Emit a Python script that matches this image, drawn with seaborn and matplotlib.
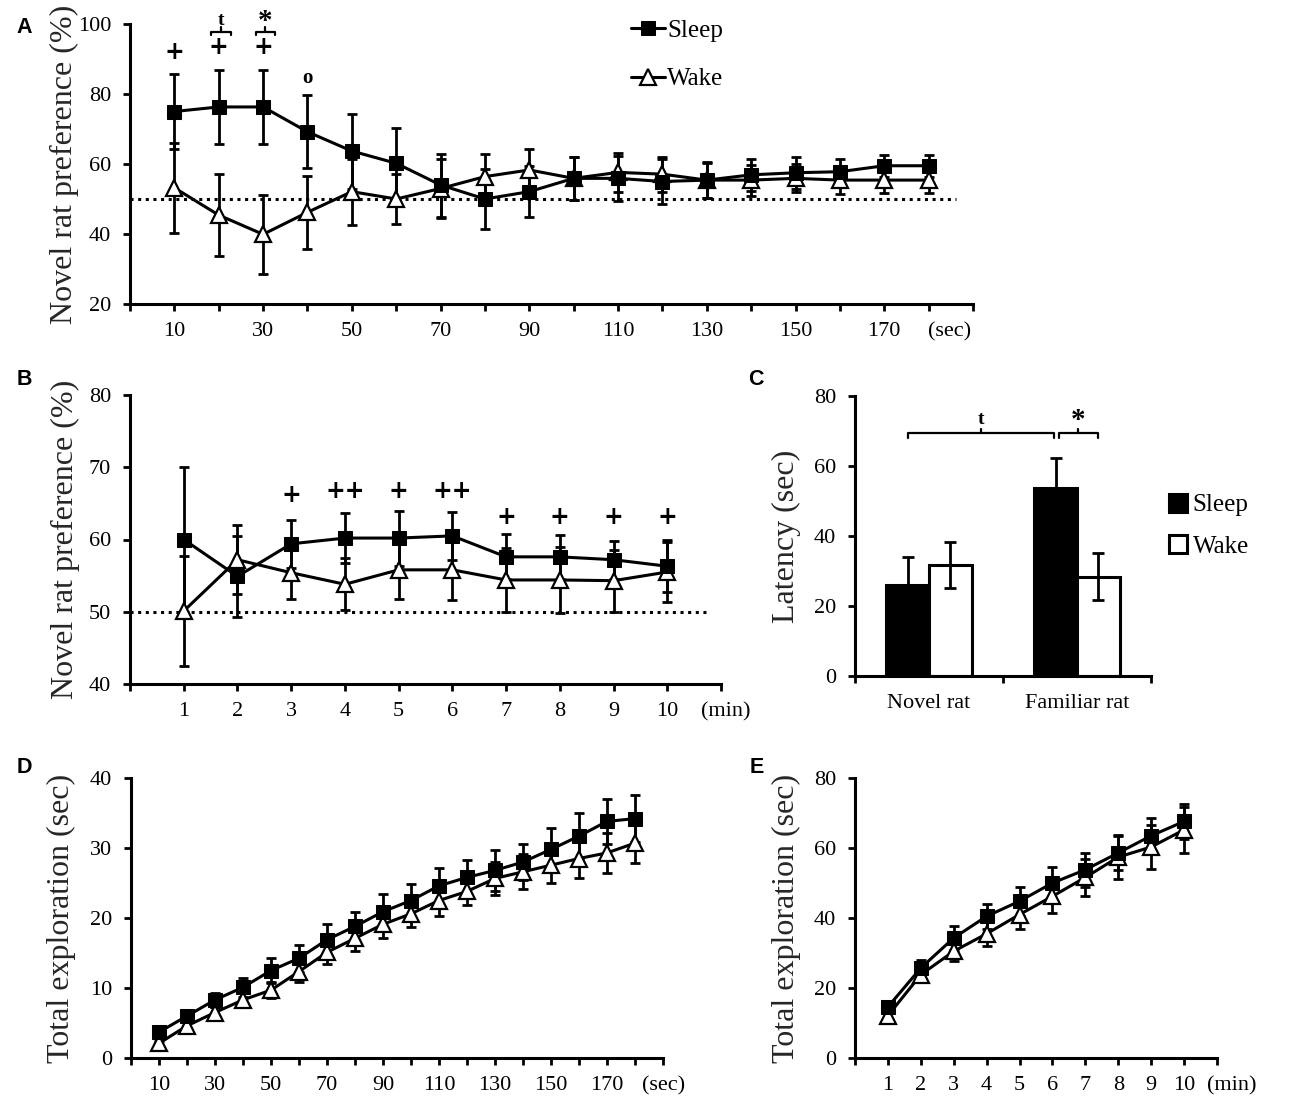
import numpy as np
import pandas as pd
import matplotlib
matplotlib.use("Agg")
import matplotlib.pyplot as plt
import seaborn as sns

# ---------------- data ----------------
A_time = [10, 20, 30, 40, 50, 60, 70, 80, 90, 100, 110, 120, 130, 140, 150, 160, 170, 180]
A_sleep = [75.0, 76.3, 76.3, 69.2, 63.7, 60.2, 54.0, 50.0, 52.1, 55.9, 55.9, 55.0, 55.4, 56.9, 57.5, 57.8, 59.5, 59.5]
A_sleep_err = [10.8, 10.5, 10.5, 10.4, 10.7, 10.1, 9.0, 8.5, 7.3, 6.2, 6.5, 6.5, 5.0, 4.5, 4.5, 3.6, 3.1, 3.1]
A_wake = [53.2, 45.4, 39.9, 46.2, 52.1, 50.0, 53.0, 56.4, 58.3, 55.9, 57.6, 57.1, 55.4, 55.4, 55.9, 55.4, 55.4, 55.4]
A_wake_err = [12.8, 11.8, 11.2, 10.5, 9.4, 7.1, 8.5, 6.6, 6.0, 6.2, 5.5, 5.0, 5.2, 4.4, 4.0, 4.0, 3.8, 3.8]

B_time = [1, 2, 3, 4, 5, 6, 7, 8, 9, 10]
B_sleep = [60.0, 54.9, 59.4, 60.2, 60.2, 60.5, 57.6, 57.6, 57.2, 56.3]
B_sleep_err = [10.0, 5.6, 3.3, 3.4, 3.8, 3.3, 3.1, 3.0, 2.6, 3.6]
B_wake = [50.1, 57.2, 55.4, 53.8, 55.8, 55.8, 54.4, 54.4, 54.3, 55.5]
B_wake_err = [7.6, 4.8, 3.7, 3.6, 4.0, 4.2, 4.4, 4.6, 4.3, 4.2]

C_groups = ["Novel rat", "Familiar rat"]
C_sleep = [26.0, 53.8]
C_sleep_err = [8.1, 8.6]
C_wake = [31.7, 28.4]
C_wake_err = [6.5, 6.8]

D_time = A_time
D_sleep = [3.7, 6.0, 8.3, 10.1, 12.5, 14.25, 16.9, 18.8, 20.9, 22.5, 24.6, 25.8, 26.8, 28.0, 29.8, 31.7, 33.8, 34.2]
D_sleep_err = [0.5, 0.7, 1.0, 1.4, 1.75, 1.9, 2.2, 2.1, 2.5, 2.3, 2.5, 2.5, 2.9, 2.6, 3.1, 3.3, 3.25, 3.4]
D_wake = [2.1, 4.6, 6.5, 8.3, 9.7, 12.35, 15.1, 17.1, 19.1, 20.6, 22.5, 23.8, 25.65, 26.6, 27.55, 28.5, 29.3, 30.7]
D_wake_err = [0.4, 0.6, 0.8, 1.0, 1.15, 1.45, 1.6, 1.8, 2.0, 1.9, 2.2, 1.9, 2.35, 2.5, 2.55, 2.75, 2.9, 2.9]

E_time = B_time
E_sleep = [14.6, 25.7, 34.3, 40.5, 44.8, 50.0, 53.8, 58.6, 63.5, 67.6]
E_sleep_err = [1.0, 2.4, 3.3, 3.6, 4.2, 4.6, 4.8, 4.9, 5.1, 5.0]
E_wake = [12.1, 23.8, 30.5, 35.5, 41.0, 46.2, 51.6, 57.4, 60.3, 65.2]
E_wake_err = [1.0, 2.1, 2.9, 3.4, 4.0, 4.8, 5.2, 6.3, 6.3, 6.6]

SEC_LABELS = ["10", "30", "50", "70", "90", "110", "130", "150", "170", "(sec)"]
MIN_LABELS = ["1", "2", "3", "4", "5", "6", "7", "8", "9", "10", "(min)"]

# ---------------- style ----------------
sns.set_style("ticks")
plt.rcParams['font.family'] = ['Liberation Serif', 'DejaVu Serif']
plt.rcParams['axes.edgecolor'] = 'black'
plt.rcParams['text.color'] = 'black'

W, H = 1300, 1101
fig = plt.figure(figsize=(W / 100, H / 100), dpi=100)
fig.patch.set_facecolor('white')


def px_axes(l, r, t, b):
    ax = fig.add_axes([l / W, 1 - b / H, (r - l) / W, (b - t) / H])
    ax._px = (l, r, t, b)
    return ax


LW = 2.2
TICKLAB = 16
YLAB = 23
TLEN = 5
XPAD = 8
YPAD = 8.5


def style(ax):
    for s in ['top', 'right']:
        ax.spines[s].set_visible(False)
    for s in ['left', 'bottom']:
        ax.spines[s].set_linewidth(LW)
        ax.spines[s].set_color('black')
    ax.tick_params(which='both', direction='out', length=TLEN, width=2,
                   color='black', labelsize=TICKLAB, labelcolor='black')
    ax.tick_params(axis='x', which='both', pad=XPAD)
    ax.tick_params(axis='y', which='both', pad=YPAD)
    ax.set_facecolor('white')
    ax.grid(False)


def ylabel(ax, text, right_px):
    l, r, t, b = ax._px
    ax.set_ylabel(text, fontsize=YLAB)
    ax.yaxis.set_label_coords((right_px - l) / (r - l), 0.5)


def series(ax, x, s, se, w, we):
    ax.errorbar(x, w, yerr=we, fmt='none', ecolor='black', elinewidth=2,
                capsize=3.5, capthick=2, zorder=2)
    ax.errorbar(x, s, yerr=se, fmt='none', ecolor='black', elinewidth=2,
                capsize=3.5, capthick=2, zorder=2)
    sns.lineplot(x=x, y=w, ax=ax, color='black', linewidth=LW, marker='^',
                 markersize=11, markerfacecolor='white', markeredgecolor='black',
                 markeredgewidth=1.6, label='Wake', errorbar=None, zorder=3)
    sns.lineplot(x=x, y=s, ax=ax, color='black', linewidth=LW, marker='s',
                 markersize=10, markerfacecolor='black', markeredgecolor='black',
                 label='Sleep', errorbar=None, zorder=4)


def unit_label(ax, text, dx_px):
    ax.annotate(text, xy=(1, 0), xycoords='axes fraction',
                xytext=(dx_px * 0.72, -(TLEN + XPAD)), textcoords='offset points',
                ha='center', va='top', fontsize=TICKLAB)


def sec_axis(ax, dx_px):
    ax.set_xlim(0, 190)
    ax.set_xticks(np.arange(10, 191, 20))
    ax.set_xticklabels(SEC_LABELS[:-1] + [''])
    ax.set_xticks(np.arange(0, 191, 20), minor=True)
    unit_label(ax, SEC_LABELS[-1], dx_px)


def min_axis(ax, dx_px):
    ax.set_xlim(0, 11)
    ax.set_xticks(np.arange(1, 12))
    ax.set_xticklabels(MIN_LABELS[:-1] + [''])
    ax.set_xticks([0], minor=True)
    unit_label(ax, MIN_LABELS[-1], dx_px)


def plus(ax, x, y, t, size=17):
    ax.text(x, y, t, ha='center', va='center', fontsize=size, fontweight='bold',
            family=['DejaVu Sans'], clip_on=False)


# ---------------- Panel A ----------------
axA = px_axes(130, 973, 24, 304)
series(axA, A_time, A_sleep, A_sleep_err, A_wake, A_wake_err)
axA.axhline(50, xmin=0, xmax=0.98, color='black', linestyle=(0, (1, 1.5)), linewidth=2.2, zorder=1)
style(axA)
sec_axis(axA, -23)
axA.set_ylim(20, 100)
axA.set_yticks([20, 40, 60, 80, 100])
axA.set_xlabel('')
ylabel(axA, 'Novel rat preference (%)', 79)
h, l = axA.get_legend_handles_labels()
axA.legend([h[1], h[0]], [l[1], l[0]], loc='upper left',
           bbox_to_anchor=(631 / W, 1 - 19 / H), bbox_transform=fig.transFigure,
           frameon=False, fontsize=18, handlelength=1.35, handletextpad=0.1,
           labelspacing=1.05, borderpad=0, borderaxespad=0)
plus(axA, 10, 92.1, '+')
plus(axA, 20, 93.5, '+')
plus(axA, 30, 93.5, '+')
axA.text(40, 84.5, 'o', ha='center', va='center', fontsize=15, fontweight='bold')
for (x0, x1, mark, msize) in [(18.3, 22.7, 't', 14), (28.3, 32.7, '*', 21)]:
    xm = (x0 + x1) / 2
    axA.plot([x0, x0, x1, x1], [96.8, 97.8, 97.8, 96.8], color='black', lw=1.6, clip_on=False)
    axA.plot([xm, xm], [97.8, 99.0], color='black', lw=1.6, clip_on=False)
    axA.text(xm, 101.0 if mark == 't' else 100.6, mark, ha='center', va='center',
             fontsize=msize, fontweight='bold', clip_on=False)

# ---------------- Panel B ----------------
axB = px_axes(130, 721, 395, 684)
series(axB, B_time, B_sleep, B_sleep_err, B_wake, B_wake_err)
axB.axhline(50, xmin=0, xmax=0.98, color='black', linestyle=(0, (1, 1.5)), linewidth=2.2, zorder=1)
style(axB)
min_axis(axB, 5)
axB.set_ylim(40, 80)
axB.set_yticks([40, 50, 60, 70, 80])
axB.set_xlabel('')
ylabel(axB, 'Novel rat preference (%)', 80)
axB.get_legend().remove()
for x, y, t in [(3, 66.2, '+'), (4, 66.7, '++'), (5, 66.7, '+'), (6, 66.7, '++'),
                (7, 63.1, '+'), (8, 63.1, '+'), (9, 63.1, '+'), (10, 63.1, '+')]:
    plus(axB, x, y, t)

# ---------------- Panel C ----------------
axC = px_axes(855, 1151, 396, 676)
dfC = pd.DataFrame({
    'group': C_groups + C_groups,
    'cond': ['Sleep'] * len(C_groups) + ['Wake'] * len(C_groups),
    'value': C_sleep + C_wake,
})
sns.barplot(data=dfC, x='group', y='value', hue='cond', order=C_groups,
            hue_order=['Sleep', 'Wake'], palette={'Sleep': 'black', 'Wake': 'white'},
            width=0.58, gap=0, edgecolor='black', linewidth=2.2, errorbar=None,
            saturation=1, ax=axC, zorder=2)
centers = {}
for cont, cond, errs in zip(axC.containers, ['Sleep', 'Wake'], [C_sleep_err, C_wake_err]):
    xs = [b.get_x() + b.get_width() / 2 for b in cont]
    ys = [b.get_height() for b in cont]
    centers[cond] = xs
    axC.errorbar(xs, ys, yerr=errs, fmt='none', ecolor='black', elinewidth=2,
                 capsize=4, capthick=2, zorder=3)
style(axC)
axC.set_xlim(-0.5, 1.5)
axC.set_ylim(0, 80)
axC.set_yticks([0, 20, 40, 60, 80])
axC.set_xticks([-0.5, 0.5, 1.5], minor=True)
axC.tick_params(axis='x', which='major', length=0, pad=13)
axC.set_xlabel('')
ylabel(axC, 'Latency (sec)', 801)
hC, lC = axC.get_legend_handles_labels()
axC.legend(hC, lC, loc='upper left', bbox_to_anchor=(1169 / W, 1 - 494 / H),
           bbox_transform=fig.transFigure, frameon=False, fontsize=18,
           handlelength=0.7, handleheight=0.7, handletextpad=0.25,
           labelspacing=0.75, borderpad=0, borderaxespad=0)
xa, xb = centers['Sleep'][0], centers['Sleep'][1]
xc = centers['Wake'][1]
for (x0, x1, mark, msize, ty) in [(xa, xb - 0.01, 't', 14, 73.3), (xb + 0.02, xc, '*', 21, 73.0)]:
    xm = (x0 + x1) / 2
    axC.plot([x0, x0, x1, x1], [68.1, 69.3, 69.3, 68.1], color='black', lw=1.6, clip_on=False)
    axC.plot([xm, xm], [69.3, 70.6], color='black', lw=1.6, clip_on=False)
    axC.text(xm, ty, mark, ha='center', va='center', fontsize=msize, fontweight='bold')

# ---------------- Panel D ----------------
axD = px_axes(131, 663, 778, 1058)
series(axD, D_time, D_sleep, D_sleep_err, D_wake, D_wake_err)
style(axD)
sec_axis(axD, 1)
axD.set_ylim(0, 40)
axD.set_yticks([0, 10, 20, 30, 40])
axD.set_xlabel('')
ylabel(axD, 'Total exploration (sec)', 76)
axD.get_legend().remove()

# ---------------- Panel E ----------------
axE = px_axes(855, 1217, 778, 1058)
series(axE, E_time, E_sleep, E_sleep_err, E_wake, E_wake_err)
style(axE)
min_axis(axE, 15)
axE.set_ylim(0, 80)
axE.set_yticks([0, 20, 40, 60, 80])
axE.set_xlabel('')
ylabel(axE, 'Total exploration (sec)', 801)
axE.get_legend().remove()

# panel letters
for letter, (x, y) in {'A': (16, 17), 'B': (17, 369), 'C': (748, 369),
                       'D': (17, 757), 'E': (750, 757)}.items():
    fig.text(x / W, 1 - y / H, letter, ha='left', va='top', fontsize=15.5,
             fontweight='bold', family=['Liberation Sans', 'DejaVu Sans'])

fig.savefig('out.png', dpi=100, facecolor='white')
